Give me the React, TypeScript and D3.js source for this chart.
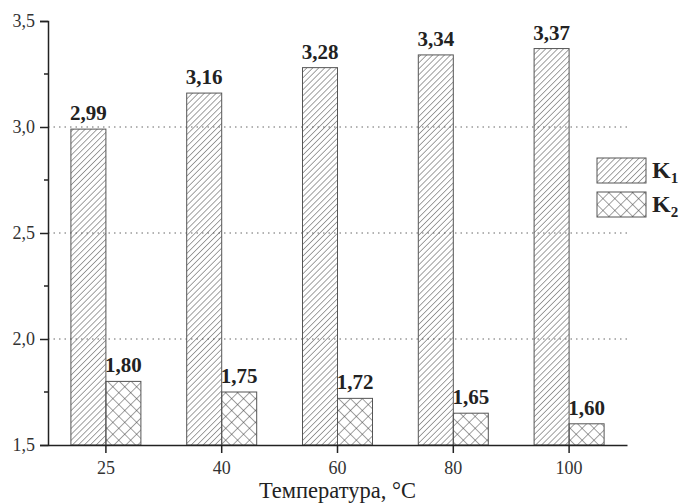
import { useEffect, useRef } from "react";
import * as d3 from "d3";

const temps = ["25", "40", "60", "80", "100"];
const k1 = [2.99, 3.16, 3.28, 3.34, 3.37];
const k2 = [1.8, 1.75, 1.72, 1.65, 1.6];
const yTicks = [1.5, 2.0, 2.5, 3.0, 3.5];
const minorTicks = [1.75, 2.25, 2.75, 3.25];
const gridValues = [2.0, 2.5, 3.0];

const W = 679;
const H = 503;
const m = { l: 48, r: 52, t: 21, b: 58 };
const FONT = "'Liberation Serif', 'Times New Roman', serif";

const fmt = (v: number, d: number) => v.toFixed(d).replace(".", ",");

const App = () => {
  const svgRef = useRef<SVGSVGElement>(null);

  useEffect(() => {
    const svg = d3.select(svgRef.current);
    svg.selectAll("*").remove();

    // patterns
    const defs = svg.append("defs");
    const p1 = defs
      .append("pattern")
      .attr("id", "hatch")
      .attr("patternUnits", "userSpaceOnUse")
      .attr("width", 4.2)
      .attr("height", 4.2)
      .attr("patternTransform", "rotate(45)");
    p1.append("line")
      .attr("x1", 0)
      .attr("y1", 0)
      .attr("x2", 0)
      .attr("y2", 4.2)
      .attr("stroke", "#444")
      .attr("stroke-width", 1);

    const p2 = defs
      .append("pattern")
      .attr("id", "cross")
      .attr("patternUnits", "userSpaceOnUse")
      .attr("width", 8.4)
      .attr("height", 8.4)
      .attr("patternTransform", "rotate(45)");
    p2.append("line")
      .attr("x1", 0).attr("y1", 0).attr("x2", 0).attr("y2", 8.4)
      .attr("stroke", "#444").attr("stroke-width", 1);
    p2.append("line")
      .attr("x1", 0).attr("y1", 0).attr("x2", 8.4).attr("y2", 0)
      .attr("stroke", "#444").attr("stroke-width", 1);

    const x = d3
      .scaleBand()
      .domain(temps)
      .range([m.l, W - m.r])
      .padding(0);
    const barW = 35;
    const y = d3.scaleLinear().domain([1.5, 3.5]).range([H - m.b, m.t]);

    // grid
    svg
      .append("g")
      .selectAll("line")
      .data(gridValues)
      .join("line")
      .attr("x1", m.l)
      .attr("x2", W - m.r)
      .attr("y1", (d) => y(d))
      .attr("y2", (d) => y(d))
      .attr("stroke", "#666")
      .attr("stroke-width", 1)
      .attr("stroke-dasharray", "1.5,4");

    const groups = svg
      .append("g")
      .selectAll("g")
      .data(temps)
      .join("g");

    const cx = (d: string) => (x(d) as number) + x.bandwidth() / 2;

    groups
      .append("rect")
      .attr("x", (d) => cx(d) - barW)
      .attr("y", (d, i) => y(k1[i]))
      .attr("width", barW)
      .attr("height", (d, i) => y(1.5) - y(k1[i]))
      .attr("fill", "url(#hatch)")
      .attr("stroke", "#555")
      .attr("stroke-width", 1);

    groups
      .append("rect")
      .attr("x", (d) => cx(d))
      .attr("y", (d, i) => y(k2[i]))
      .attr("width", barW)
      .attr("height", (d, i) => y(1.5) - y(k2[i]))
      .attr("fill", "url(#cross)")
      .attr("stroke", "#555")
      .attr("stroke-width", 1);

    groups
      .append("text")
      .attr("x", (d) => cx(d) - barW / 2)
      .attr("y", (d, i) => y(k1[i]) - 9)
      .attr("text-anchor", "middle")
      .attr("font-family", FONT)
      .attr("font-weight", "bold")
      .attr("font-size", 21)
      .attr("fill", "#222")
      .text((d, i) => fmt(k1[i], 2));

    groups
      .append("text")
      .attr("x", (d) => cx(d) + barW / 2)
      .attr("y", (d, i) => y(k2[i]) - 9)
      .attr("text-anchor", "middle")
      .attr("font-family", FONT)
      .attr("font-weight", "bold")
      .attr("font-size", 21)
      .attr("fill", "#222")
      .text((d, i) => fmt(k2[i], 2));

    // y axis
    const yAxis = svg
      .append("g")
      .attr("transform", `translate(${m.l},0)`)
      .call(
        d3
          .axisLeft(y)
          .tickValues(yTicks)
          .tickSize(8)
          .tickPadding(5)
          .tickFormat((d) => fmt(d as number, 1))
      );
    yAxis.select(".domain").attr("stroke", "#222").attr("stroke-width", 1.5);
    yAxis.selectAll(".tick line").attr("stroke", "#222").attr("stroke-width", 1.5);
    yAxis
      .selectAll(".tick text")
      .attr("font-family", FONT)
      .attr("font-size", 18)
      .attr("fill", "#333");

    svg
      .append("g")
      .selectAll("line")
      .data(minorTicks)
      .join("line")
      .attr("x1", m.l - 4)
      .attr("x2", m.l)
      .attr("y1", (d) => y(d))
      .attr("y2", (d) => y(d))
      .attr("stroke", "#222")
      .attr("stroke-width", 1.5);

    // x axis
    const xAxis = svg
      .append("g")
      .attr("transform", `translate(0,${H - m.b})`)
      .call(d3.axisBottom(x).tickSize(8).tickSizeOuter(0).tickPadding(8));
    xAxis.select(".domain").attr("stroke", "#222").attr("stroke-width", 1.5);
    xAxis.selectAll(".tick line").attr("stroke", "#222").attr("stroke-width", 1.5);
    xAxis
      .selectAll(".tick text")
      .attr("font-family", FONT)
      .attr("font-size", 18)
      .attr("fill", "#333");

    svg
      .append("text")
      .attr("x", (m.l + W - m.r) / 2)
      .attr("y", H - 5)
      .attr("text-anchor", "middle")
      .attr("font-family", FONT)
      .attr("font-size", 22.5)
      .attr("fill", "#222")
      .text("Температура, °C");

    // legend
    const legend = [
      { fill: "url(#hatch)", label: "1" },
      { fill: "url(#cross)", label: "2" },
    ];
    const lg = svg
      .append("g")
      .selectAll("g")
      .data(legend)
      .join("g")
      .attr("transform", (d, i) => `translate(597,${158 + i * 34})`);
    lg.append("rect")
      .attr("width", 49)
      .attr("height", 25)
      .attr("fill", (d) => d.fill)
      .attr("stroke", "#555")
      .attr("stroke-width", 1);
    const lt = lg
      .append("text")
      .attr("x", 55)
      .attr("y", 20)
      .attr("font-family", FONT)
      .attr("font-weight", "bold")
      .attr("font-size", 24)
      .attr("fill", "#222");
    lt.append("tspan").text("K");
    lt.append("tspan")
      .attr("font-size", 15)
      .attr("dy", 5)
      .text((d) => d.label);
  }, []);

  return (
    <svg
      ref={svgRef}
      width={W}
      height={H}
      style={{ position: "absolute", left: 0, top: 0, background: "#fff" }}
    ></svg>
  );
};

export default App;
